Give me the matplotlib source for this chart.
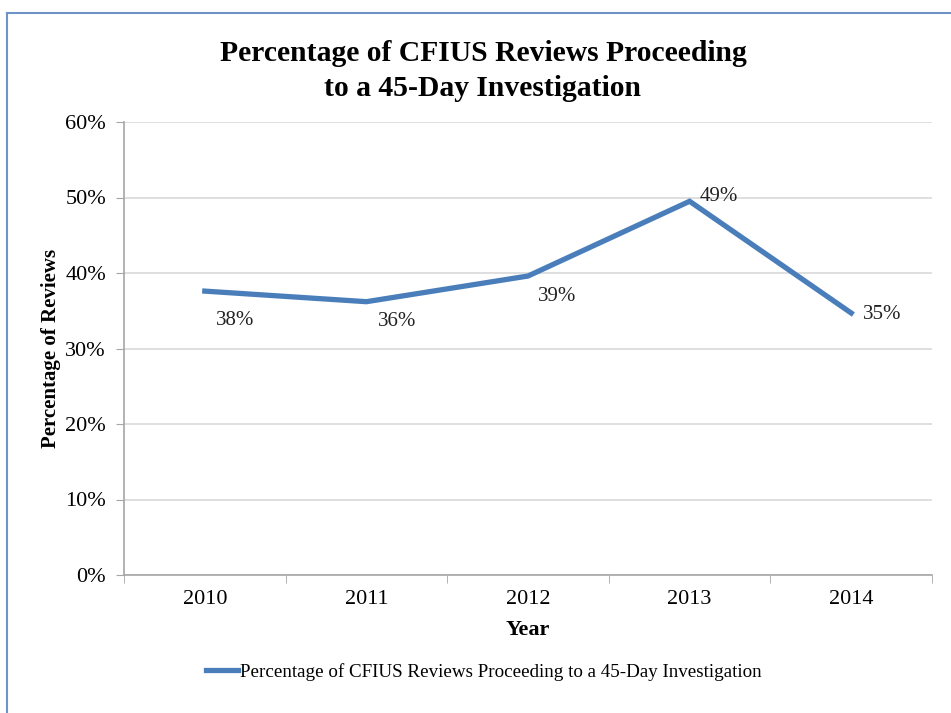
import matplotlib
matplotlib.use("Agg")
import matplotlib.pyplot as plt
from matplotlib.lines import Line2D

years = ["2010", "2011", "2012", "2013", "2014"]
pct = [37.6, 36.2, 39.6, 49.5, 34.7]
labels = ["38%", "36%", "39%", "49%", "35%"]
yticks = [0, 10, 20, 30, 40, 50, 60]

series_name = "Percentage of CFIUS Reviews Proceeding to a 45-Day Investigation"
blue = "#4a7ebb"

plt.rcParams["font.family"] = ["Liberation Serif", "DejaVu Serif"]

fig = plt.figure(figsize=(9.51, 7.13), dpi=100)
W, H = 951, 713
ax = fig.add_axes([124 / W, 1 - 575 / H, (932 - 124) / W, (575 - 122) / H])

x = list(range(len(years)))
ax.plot(x, pct, color=blue, lw=3.8, solid_joinstyle="miter", zorder=3)

# label offsets in pixels (dx, dy) relative to each point
offs = [(11, -29), (12, -20), (10, -20), (10, 5), (12, -1)]
for xi, yi, lab, (dx, dy) in zip(x, pct, labels, offs):
    ax.annotate(lab, (xi, yi), xytext=(dx * 0.72, dy * 0.72), textcoords="offset points",
                ha="left", va="center", fontsize=15, color="#222222")

ax.set_xlim(-0.5, len(years) - 0.5)
ax.set_ylim(0, 60)
ax.set_yticks(yticks)
ax.set_yticklabels([f"{v}%" for v in yticks], fontsize=16)
ax.set_xticks(x)
ax.set_xticklabels(years, fontsize=16)
ax.set_xticks([i + 0.5 for i in range(-1, len(years))], minor=True)
ax.tick_params(axis="x", which="major", length=0, pad=11)
ax.tick_params(axis="x", which="minor", length=6, color="#a6a6a6", direction="out")
ax.tick_params(axis="y", length=6, color="#a6a6a6", direction="out", pad=7)

ax.grid(axis="y", color="#d9d9d9", lw=1.2)
ax.set_axisbelow(True)
for s in ["top", "right"]:
    ax.spines[s].set_visible(False)
for s in ["left", "bottom"]:
    ax.spines[s].set_color("#a6a6a6")
    ax.spines[s].set_linewidth(1.2)

ax.set_xlabel("Year", fontsize=16, fontweight="bold", labelpad=8)
ax.set_ylabel("Percentage of Reviews", fontsize=15, fontweight="bold", labelpad=3)

fig.text(483 / W, 1 - 71 / H, "Percentage of CFIUS Reviews Proceeding\nto a 45-Day Investigation",
         ha="center", va="center", fontsize=21.3, fontweight="bold", linespacing=1.38)

handle = Line2D([0], [0], color=blue, lw=3.8)
fig.legend([handle], [series_name], loc="center", bbox_to_anchor=(484 / W, 1 - 672 / H),
           frameon=False, fontsize=13.7, handlelength=1.7, handletextpad=0.1)

# outer chart border (blue, only top and left visible)
fig.add_artist(Line2D([7 / W, 7 / W], [0, 1 - 13 / H], color="#6f93c9", lw=1.5, transform=fig.transFigure))
fig.add_artist(Line2D([7 / W, 1], [1 - 13 / H, 1 - 13 / H], color="#6f93c9", lw=1.5, transform=fig.transFigure))

fig.savefig("out.png", dpi=100)
